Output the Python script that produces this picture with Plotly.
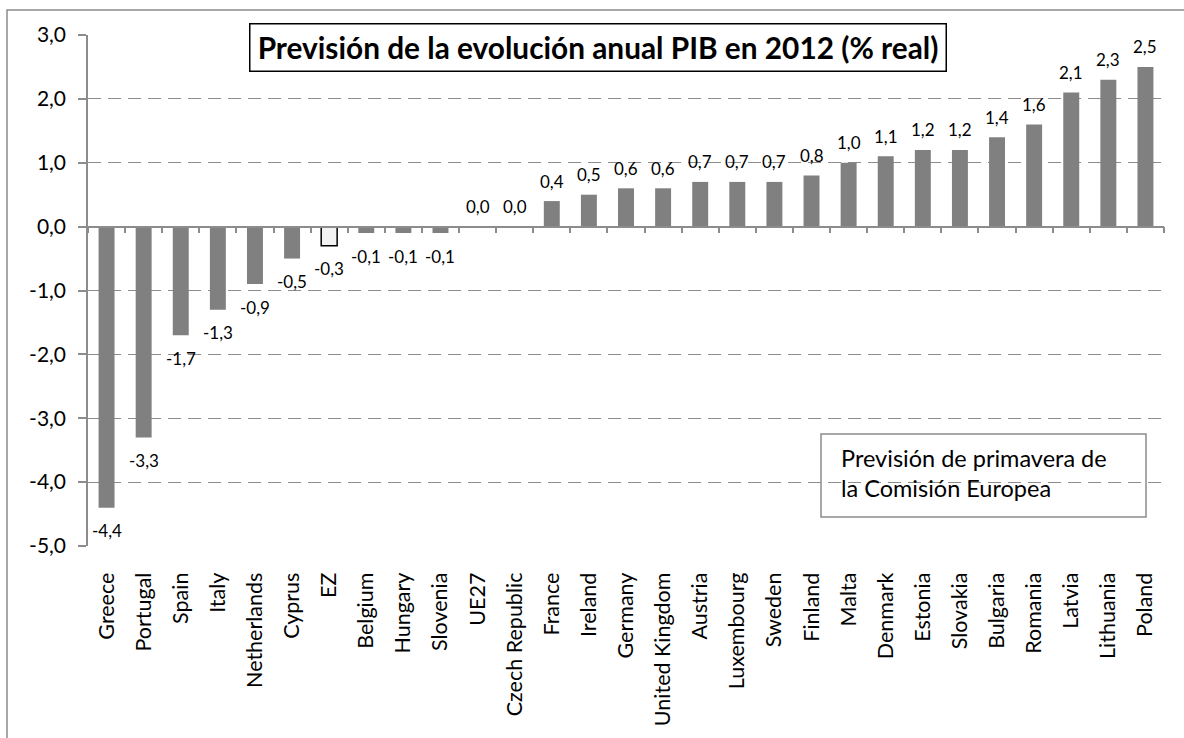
import plotly.graph_objects as go

# Previsión de crecimiento del PIB real 2012 por país (Comisión Europea, primavera)
countries = ["Greece", "Portugal", "Spain", "Italy", "Netherlands", "Cyprus", "EZ",
             "Belgium", "Hungary", "Slovenia", "UE27", "Czech Republic", "France",
             "Ireland", "Germany", "United Kingdom", "Austria", "Luxembourg", "Sweden",
             "Finland", "Malta", "Denmark", "Estonia", "Slovakia", "Bulgaria", "Romania",
             "Latvia", "Lithuania", "Poland"]
growth = [-4.4, -3.3, -1.7, -1.3, -0.9, -0.5, -0.3, -0.1, -0.1, -0.1, 0.0, 0.0, 0.4,
          0.5, 0.6, 0.6, 0.7, 0.7, 0.7, 0.8, 1.0, 1.1, 1.2, 1.2, 1.4, 1.6, 2.1, 2.3, 2.5]
highlight = "EZ"

y_ticks = [-5, -4, -3, -2, -1, 0, 1, 2, 3]
y_range = [-5, 3]

title_text = "Previsión de la evolución anual PIB en 2012 (% real)"
note_lines = ["Previsión de primavera de", "la Comisión Europea"]

FONT = "Lato"
GRAY = "#808080"
AXIS_GRAY = "#8c8c8c"

W, H = 1184, 738
ML, MR, MT, MB = 88, 20, 35, 192
plot_w = W - ML - MR
plot_h = H - MT - MB


def px_x(px):
    return (px - ML) / plot_w


def px_y(py):
    return 1 - (py - MT) / plot_h


def es_num(v):
    # decimal comma, plain hyphen for negatives
    return f"{v:.1f}".replace(".", ",")


bar_colors = ["#f2f2f2" if c == highlight else GRAY for c in countries]
line_widths = [1.5 if c == highlight else 0 for c in countries]

fig = go.Figure()
fig.add_trace(go.Bar(
    x=countries, y=growth, width=0.43,
    marker=dict(color=bar_colors, line=dict(color="#000000", width=line_widths)),
    hoverinfo="skip", showlegend=False,
))
# companion trace that carries the zero-line category axis
fig.add_trace(go.Scatter(
    x=countries, y=growth, xaxis="x2", mode="markers",
    marker=dict(opacity=0), hoverinfo="skip", showlegend=False,
))

annotations = []
for c, v in zip(countries, growth):
    annotations.append(dict(
        x=c, y=v, xref="x", yref="y", text=es_num(v),
        showarrow=False, yanchor="middle",
        yshift=-23 if v < 0 else 20,
        font=dict(family=FONT, size=17, color="#000000"),
    ))

annotations.append(dict(
    x=px_x(598), y=px_y(48), xref="paper", yref="paper",
    text=f"<b>{title_text}</b>", showarrow=False,
    xanchor="center", yanchor="middle",
    font=dict(family=FONT, size=29.8, color="#000000"),
    bgcolor="#ffffff", bordercolor="#000000", borderwidth=1.5,
    borderpad=0, width=695, height=46,
))
for line, ypx in zip(note_lines, [458, 488]):
    annotations.append(dict(
        x=px_x(839), y=px_y(ypx), xref="paper", yref="paper",
        text=line, showarrow=False, xanchor="left", yanchor="middle",
        font=dict(family=FONT, size=23.5, color="#000000"),
    ))

shapes = [
    # outer chart frame
    dict(type="rect", xref="paper", yref="paper",
         x0=px_x(7), x1=px_x(1250), y0=px_y(800), y1=px_y(10),
         line=dict(color=AXIS_GRAY, width=1.5), fillcolor="rgba(0,0,0,0)", layer="below"),
    # note box
    dict(type="rect", xref="paper", yref="paper",
         x0=px_x(821), x1=px_x(1146), y0=px_y(517), y1=px_y(434),
         line=dict(color=AXIS_GRAY, width=1.5), fillcolor="rgba(0,0,0,0)"),
]

zero_pos = (0 - y_range[0]) / (y_range[1] - y_range[0])

fig.update_layout(
    width=W, height=H,
    margin=dict(l=ML, r=MR, t=MT, b=MB),
    paper_bgcolor="#ffffff", plot_bgcolor="#ffffff",
    separators=",.",
    font=dict(family=FONT, color="#000000"),
    xaxis=dict(
        type="category", categoryorder="array", categoryarray=countries,
        range=[-0.5, len(countries) - 0.5],
        tickangle=-90, ticks="outside", ticklen=17, tickcolor="rgba(0,0,0,0)",
        showline=False, showgrid=False, zeroline=False,
        tickfont=dict(family=FONT, size=21.5, color="#000000"),
    ),
    xaxis2=dict(
        type="category", categoryorder="array", categoryarray=countries,
        range=[-0.5, len(countries) - 0.5],
        overlaying="x", anchor="free", position=zero_pos, side="bottom",
        showline=True, linecolor=AXIS_GRAY, linewidth=1.5,
        ticks="outside", tickson="boundaries", ticklen=6, tickcolor=AXIS_GRAY, tickwidth=1.5,
        showticklabels=False, showgrid=False, zeroline=False,
    ),
    yaxis=dict(
        range=y_range, tickvals=y_ticks, ticktext=[es_num(t) for t in y_ticks],
        showline=True, linecolor=AXIS_GRAY, linewidth=1.5,
        ticks="outside", ticklen=8, tickcolor=AXIS_GRAY, tickwidth=1.5,
        ticklabelstandoff=8,
        showgrid=True, gridcolor=AXIS_GRAY, gridwidth=1.3, griddash="13px,7px",
        zeroline=False,
        tickfont=dict(family=FONT, size=21, color="#000000"),
    ),
    annotations=annotations,
    shapes=shapes,
)

fig.write_html("out.html")
